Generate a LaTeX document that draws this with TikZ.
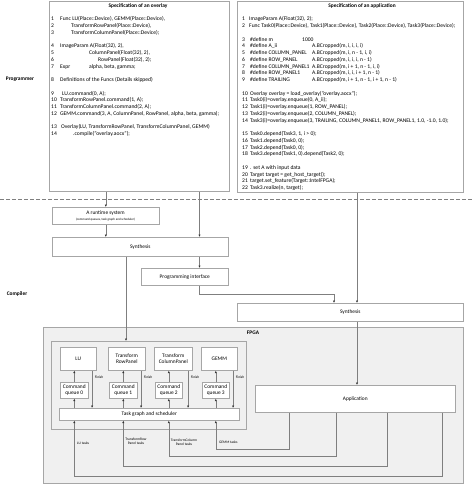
\documentclass[tikz,border=0pt]{standalone}
\usepackage{fontspec}
\setmainfont{Carlito}
\usetikzlibrary{positioning,calc,arrows.meta}

\definecolor{edgegray}{HTML}{A6A6A6}
\definecolor{linegray}{HTML}{7F7F7F}
\definecolor{fpgafill}{HTML}{F0F0F0}

\newcommand{\lno}[1]{\makebox[9pt][l]{#1}}
\newcommand{\rno}[1]{\makebox[7pt][l]{#1}}

\tikzset{
  box/.style={draw=edgegray, fill=white, line width=0.6pt, inner sep=0pt, anchor=north west},
  code/.style={anchor=base west, inner sep=0pt, font=\fontsize{5.6}{6.5}\selectfont},
  label/.style={inner sep=0pt, font=\fontsize{5.4}{6.2}\selectfont, align=center},
  heading/.style={inner sep=0pt, anchor=base, font=\fontsize{5.4}{6.2}\selectfont\bfseries},
  note/.style={inner sep=0pt, font=\fontsize{3.6}{4.4}\selectfont, align=center},
  conn/.style={draw=linegray, line width=0.6pt},
  arr/.style={conn, -{Latex[length=2.4pt,width=2.2pt,color=black!80]}}
}

\begin{document}
\begin{tikzpicture}[x=1pt, y=-1pt]
  \useasboundingbox (0,0) rectangle (474,485);

  \draw[linegray, line width=0.6pt, dash pattern=on 3.5pt off 2.5pt] (0,199) -- (474,199);

  \node[heading] (prog) at (20,80) {Programmer};
  \node[heading] (comp) at (17,295) {Compiler};

  % overlay specification
  \node[box, minimum width=180pt, minimum height=190.5pt] (ovl) at (49,0.5) {};
  \node[heading] (ovlhead) at (138,7.8) {Specification of an overlay};
  \foreach \s/\t in {
      0/{\lno{1}Func LU(Place::Device), GEMM(Place::Device),},
      1/{\lno{2}\hspace{11pt}TransformRowPanel(Place::Device),},
      2/{\lno{3}\hspace{11pt}TransformColumnPanel(Place::Device);},
      4/{\lno{4}ImageParam A(Float(32), 2),},
      5/{\lno{5}\hspace{29pt}ColumnPanel(Float(32), 2),},
      6/{\lno{6}\hspace{38pt}RowPanel(Float(32), 2);},
      7/{\lno{7}\makebox[29pt][l]{Expr}alpha, beta, gamma;},
      9/{\lno{8}Definitions of the Funcs (Details skipped)},
      11/{\lno{9}\hspace{2pt}LU.command(0, A);},
      12/{\lno{10}TransformRowPanel.command(1, A);},
      13/{\lno{11}TransformColumnPanel.command(2, A);},
      14/{\lno{12}GEMM.command(3, A, ColumnPanel, RowPanel, alpha, beta, gamma);},
      16/{\lno{13}\hspace{1pt}Overlay(LU, TransformRowPanel, TransformColumnPanel, GEMM)},
      17/{\lno{14}\hspace{13pt}.compile("overlay.aocx");}}
    \node[code] (ovl\s) at (51, 20.8+6.75*\s) {\t};

  % application specification
  \node[box, minimum width=226pt, minimum height=191.5pt] (apl) at (237,0.5) {};
  \node[heading] (aplhead) at (362,7.8) {Specification of an application};
  \foreach \s/\t in {
      0/{\rno{1}ImageParam A(Float(32), 2);},
      1/{\rno{2}Func Task0(Place::Device), Task1(Place::Device), Task2(Place::Device), Task3(Place::Device);},
      3/{\rno{3}\hspace{1pt}\makebox[52pt][l]{\#define m}1000},
      4/{\rno{4}\hspace{1pt}\makebox[62pt][l]{\#define A\_ii}A.BCropped(m, i, i, i, i)},
      5/{\rno{5}\hspace{1pt}\makebox[62pt][l]{\#define COLUMN\_PANEL}A.BCropped(m, i, n - 1, i, i)},
      6/{\rno{6}\hspace{1pt}\makebox[62pt][l]{\#define ROW\_PANEL}A.BCropped(m, i, i, i, n - 1)},
      7/{\rno{7}\hspace{1pt}\makebox[62pt][l]{\#define COLUMN\_PANEL1}A.BCropped(m, i + 1, n - 1, i, i)},
      8/{\rno{8}\hspace{1pt}\makebox[62pt][l]{\#define ROW\_PANEL1}A.BCropped(m, i, i, i + 1, n - 1)},
      9/{\rno{9}\hspace{1pt}\makebox[62pt][l]{\#define TRAILING}A.BCropped(m, i + 1, n - 1, i + 1, n - 1)},
      11/{\rno{10}\hspace{1pt}Overlay overlay = load\_overlay("overlay.aocx");},
      12/{\rno{11}\hspace{1pt}Task0(i)=overlay.enqueue(0, A\_ii);},
      13/{\rno{12}\hspace{1pt}Task1(i)=overlay.enqueue(1, ROW\_PANEL);},
      14/{\rno{13}\hspace{1pt}Task2(i)=overlay.enqueue(2, COLUMN\_PANEL);},
      15/{\rno{14}\hspace{1pt}Task3(i)=overlay.enqueue(3, TRAILING, COLUMN\_PANEL1, ROW\_PANEL1, 1.0, -1.0, 1.0);},
      17/{\rno{15}\hspace{1pt}Task0.depend(Task3, 1, i > 0);},
      18/{\rno{16}\hspace{1pt}Task1.depend(Task0, 0);},
      19/{\rno{17}\hspace{1pt}Task2.depend(Task0, 0);},
      20/{\rno{18}\hspace{1pt}Task3.depend(Task1, 0).depend(Task2, 0);},
      22/{\rno{19}\hspace{1pt}. set A with input data},
      23/{\rno{20}\hspace{1pt}Target target = get\_host\_target();},
      24/{\rno{21}\hspace{1pt}target.set\_feature(Target::IntelFPGA);},
      25/{\rno{22}\hspace{1pt}Task3.realize(n, target);}}
    \node[code] (apl\s) at (242, 20.8+6.75*\s) {\t};

  % compiler part
  \node[box, minimum width=107pt, minimum height=17pt] (rts) at (52,207) {};
  \node[label] (rtstext) at (105.5,213.5) {A runtime system};
  \node[note, font=\fontsize{3.2}{4}\selectfont] (rtsnote) at (105.5,219.5) {(command queues, task graph and scheduler)};
  \node[box, minimum width=176pt, minimum height=19pt] (syn) at (52,237) {};
  \node[label] (syntext) at (syn.center) {Synthesis};
  \node[box, minimum width=87pt, minimum height=17pt] (pif) at (141,268) {};
  \node[label] (piftext) at (pif.center) {Programming interface};
  \node[box, minimum width=226pt, minimum height=18pt] (synapp) at (237,303) {};
  \node[label] (synapptext) at (synapp.center) {Synthesis};

  % FPGA
  \node[box, fill=fpgafill, minimum width=420pt, minimum height=156pt] (fpga) at (43,327) {};
  \node[heading] (fpgahead) at (253,334.5) {FPGA};
  \node[box, fill=fpgafill, minimum width=195pt, minimum height=88pt] (ovlhw) at (51,341) {};
  \node[box, minimum width=36pt, minimum height=23pt] (lu) at (60,347) {};
  \node[label] (lutext) at (lu.center) {LU};
  \node[box, minimum width=37pt, minimum height=23pt] (trp) at (108,347) {};
  \node[label] (trptext) at (trp.center) {Transform\\RowPanel};
  \node[box, minimum width=38pt, minimum height=23pt] (tcp) at (154,347) {};
  \node[label] (tcptext) at (tcp.center) {Transform\\ColumnPanel};
  \node[box, minimum width=36pt, minimum height=23pt] (gemm) at (201,347) {};
  \node[label] (gemmtext) at (gemm.center) {GEMM};
  \node[box, minimum width=28pt, minimum height=16pt] (cq0) at (60,382) {};
  \node[label] (cq0text) at (cq0.center) {Command\\queue 0};
  \node[box, minimum width=28pt, minimum height=16pt] (cq1) at (109,382) {};
  \node[label] (cq1text) at (cq1.center) {Command\\queue 1};
  \node[box, minimum width=27pt, minimum height=16pt] (cq2) at (155,382) {};
  \node[label] (cq2text) at (cq2.center) {Command\\queue 2};
  \node[box, minimum width=27pt, minimum height=16pt] (cq3) at (202,382) {};
  \node[label] (cq3text) at (cq3.center) {Command\\queue 3};
  \node[box, minimum width=180pt, minimum height=12pt] (tgs) at (59,408) {};
  \node[label] (tgstext) at (tgs.center) {Task graph and scheduler};
  \node[box, minimum width=200pt, minimum height=27pt] (app) at (255,385) {};
  \node[label] (apptext) at (app.center) {Application};

  % taps
  \coordinate (tapa) at (199.5,0);
  \coordinate (tapb) at (357,0);
  \coordinate (tapc) at (126,0);
  \coordinate (pifbend) at (334,294);

  % connectors
  \draw[arr] (rts.north |- ovl.south) -- (rts.north);
  \draw[arr] (rts.south) -- (rts.south |- syn.north);
  \draw[arr] (ovl.south -| tapa) -- (syn.north -| tapa);
  \draw[arr] (syn.south -| tapa) -- (pif.north -| tapa);
  \draw[arr] (pif.south -| tapa) |- (pifbend) -- (pifbend |- synapp.north);
  \draw[arr] (apl.south -| tapb) -- (synapp.north -| tapb);
  \draw[arr] (synapp.south -| tapb) -- (app.north -| tapb);
  \draw[arr] (syn.south -| tapc) -- (ovlhw.north -| tapc);

  \foreach \q/\k in {cq0/lu, cq1/trp, cq2/tcp, cq3/gemm} {
    \draw[arr] (\q.north) -- (\q.north |- \k.south);
    \draw[arr] (\q.south |- tgs.north) -- (\q.south);
    \draw[arr] ([xshift=-4.5pt]\k.south east) -- ([xshift=-4.5pt]\k.south east |- tgs.north);
    \node[note, anchor=west] (\k fin) at ([xshift=-2pt,yshift=-7pt]\k.south east) {Finish};
  }

  \coordinate (gemmrun) at (289,449);
  \coordinate (tcprun) at (336,456);
  \coordinate (trprun) at (387,466);
  \coordinate (lurun) at (442,476);
  \draw[arr] (app.south -| gemmrun) -- (gemmrun) -| (tgs.south -| cq3.south);
  \draw[arr] (app.south -| tcprun) -- (tcprun) -| (tgs.south -| cq2.south);
  \draw[arr] (app.south -| trprun) -- (trprun) -| (tgs.south -| cq1.south);
  \draw[arr] (app.south -| lurun) -- (lurun) -| (tgs.south -| cq0.south);

  \node[note, anchor=west] (lutasks) at (77,443) {LU tasks};
  \node[note] (trptasks) at (136,441) {TransformRow\\Panel tasks};
  \node[note] (tcptasks) at (184,442) {TransformColumn\\Panel tasks};
  \node[note, anchor=west] (gemmtasks) at (219,442) {GEMM tasks};
\end{tikzpicture}
\end{document}
